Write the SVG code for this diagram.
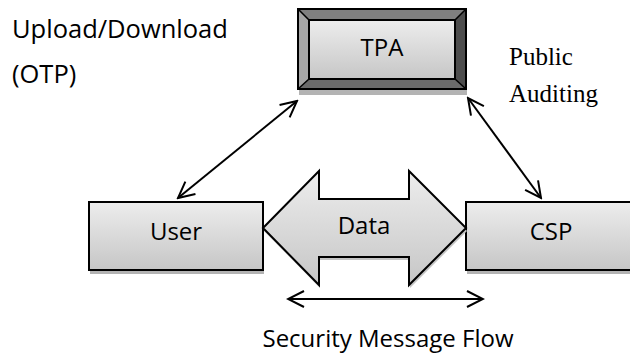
<svg xmlns="http://www.w3.org/2000/svg" width="630" height="356" viewBox="0 0 630 356">
<defs>
<linearGradient id="g" x1="0" y1="0" x2="0" y2="1">
<stop offset="0" stop-color="#ededed"/>
<stop offset="1" stop-color="#c6c6c6"/>
</linearGradient>
<marker id="ah" viewBox="0 0 20 20" refX="18" refY="10" markerWidth="20" markerHeight="20" markerUnits="userSpaceOnUse" orient="auto-start-reverse">
<path d="M2,2 L18,10 L2,18" fill="none" stroke="#000" stroke-width="2"/>
</marker>
</defs>
<style>
.box{fill:url(#g);stroke:#000;stroke-width:2}
.sh{fill:#b3b3b3}
.lbl{font-family:"Open Sans",sans-serif;font-size:24px;fill:#000}
.big{font-family:"Open Sans",sans-serif;font-size:25.5px;fill:#000}
.ser{font-family:"Liberation Serif",serif;font-size:25px;fill:#000}
.con{fill:none;stroke:#000;stroke-width:2}
</style>
<rect width="630" height="356" fill="#fff"/>
<g id="TPA">
<rect x="299" y="13" width="168" height="82" class="sh"/>
<polygon points="298,9 466,9 455,20 309,20" fill="#808080"/>
<polygon points="298,9 309,20 309,79 298,89" fill="#a6a6a6"/>
<polygon points="466,9 466,89 455,79 455,20" fill="#4d4d4d"/>
<polygon points="298,89 466,89 455,79 309,79" fill="#6b6b6b"/>
<rect x="309" y="20" width="146" height="59" fill="url(#g)" stroke="#000" stroke-width="2"/>
<rect x="298" y="9" width="168" height="80" fill="none" stroke="#000" stroke-width="2"/>
<path d="M298,9 L309,20 M466,9 L455,20 M298,89 L309,79 M466,89 L455,79" stroke="#000" stroke-width="1.5"/>
<text x="382" y="56" text-anchor="middle" class="lbl">TPA</text>
</g>
<g id="User">
<rect x="90" y="206" width="174" height="68" class="sh"/>
<rect x="89" y="202" width="174" height="68" class="box"/>
<text x="176" y="240" text-anchor="middle" class="lbl">User</text>
</g>
<g id="CSP">
<rect x="467" y="206" width="170" height="68" class="sh"/>
<rect x="466" y="202" width="170" height="68" class="box"/>
<text x="551" y="240" text-anchor="middle" class="lbl">CSP</text>
</g>
<g id="Data">
<polygon points="264,231 320,174 320,202 410,202 410,174 467,231 410,288 410,260 320,260 320,288" fill="#c4c4c4"/>
<polygon points="263,228 319,171 319,199 409,199 409,171 466,228 409,285 409,257 319,257 319,285" fill="url(#g)" stroke="#000" stroke-width="2" stroke-linejoin="miter"/>
<text x="364" y="234" text-anchor="middle" class="lbl">Data</text>
</g>
<g id="labels">
<text x="12" y="38" class="big">Upload/Download</text>
<text x="12" y="83" class="big">(OTP)</text>
<text x="509" y="65" class="ser">Public</text>
<text x="509" y="102" class="ser">Auditing</text>
<text x="388" y="347" text-anchor="middle" class="lbl">Security Message Flow</text>
</g>
<g id="connectors">
<line x1="297" y1="101" x2="178" y2="198" class="con" marker-start="url(#ah)" marker-end="url(#ah)"/>
<line x1="468" y1="98" x2="541" y2="198" class="con" marker-start="url(#ah)" marker-end="url(#ah)"/>
<line x1="288" y1="299" x2="483" y2="299" class="con" marker-start="url(#ah)" marker-end="url(#ah)"/>
</g>
</svg>
